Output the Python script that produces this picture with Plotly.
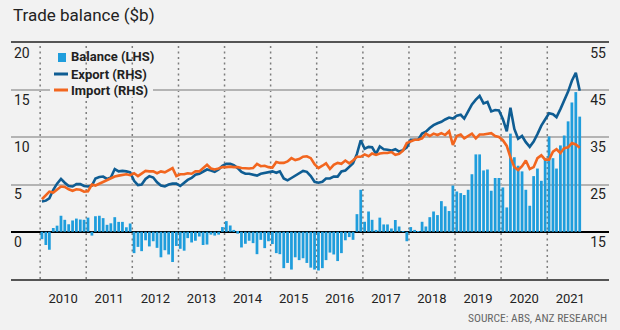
import plotly.graph_objects as go
import pandas as pd

# ---------------- data (A$ billion, monthly, Jan 2010 - Sep 2021) ----------------
balance = [
    -0.78, -1.4, -1.9, 0.4, 0.65, 1.7, 1.27, 0.8, 1.2, 1.4, 1.3, 1.27,        # 2010
    1.5, -0.4, 1.65, 1.7, 1.45, 0.74, 0.9, 1.55, 1.05, 1.05, 0.48, 0.88,      # 2011
    -2.26, -1.6, -2.05, -0.9, -1.55, -1.0, -1.7, -2.7, -1.95, -2.4, -3.2, -1.5,  # 2012
    -1.8, -2.0, -0.67, -1.13, -0.95, -0.5, -1.4, -1.35, -0.3, -0.4, -0.3, 0.5,   # 2013
    1.13, 0.67, 0.2, -0.2, -1.66, -1.27, -0.95, -1.2, -2.37, -0.85, -1.73, -1.0,  # 2014
    -1.3, -2.26, -2.37, -3.85, -3.3, -4.0, -2.7, -3.0, -2.8, -3.3, -3.8, -4.0,    # 2015
    -4.1, -3.85, -3.0, -2.2, -2.4, -3.1, -2.26, -0.9, -0.56, -0.85, 1.87, 4.45,   # 2016
    1.06, 2.15, 1.27, 0.2, 1.5, 0.78, 0.78, 0.35, 1.25, 0.56, 0.07, -1.0,        # 2017
    0.5, 0.2, 0.05, 1.06, 0.56, 1.55, 2.15, 1.77, 3.25, 2.7, 2.2, 4.9,           # 2018
    4.27, 4.1, 3.9, 4.45, 6.1, 8.2, 8.2, 6.5, 6.6, 4.35, 5.7, 5.7,               # 2019
    4.7, 2.58, 10.4, 7.9, 7.0, 6.4, 4.45, 2.76, 5.9, 6.7, 5.4, 7.8,              # 2020
    10.1, 7.8, 6.7, 9.15, 10.2, 11.7, 13.7, 14.8, 12.2,                          # 2021
]
exports = [
    21.4, 21.6, 22.1, 23.9, 25.2, 26.2, 25.4, 24.7, 24.6, 25.1, 25.1, 24.7,
    24.6, 24.8, 26.3, 26.6, 26.7, 26.2, 26.5, 28.3, 27.8, 27.9, 27.8, 27.6,
    25.8, 24.9, 25.0, 26.2, 26.8, 26.5, 25.5, 24.8, 24.6, 25.0, 25.2, 25.2,
    24.7, 25.3, 26.0, 26.4, 27.1, 27.3, 27.8, 28.2, 28.0, 27.7, 28.2, 29.0,
    29.4, 29.4, 29.1, 28.5, 27.7, 27.3, 27.3, 27.1, 26.9, 27.3, 27.5, 27.7,
    27.8, 27.5, 27.8, 26.3, 25.9, 26.4, 26.9, 27.5, 27.9, 27.7, 26.8, 25.6,
    25.4, 25.6, 26.3, 26.3, 26.7, 26.7, 27.8, 28.0, 28.7, 29.5, 31.5, 34.4,
    32.6, 33.0, 32.9, 31.5, 33.1, 32.5, 32.4, 32.2, 32.5, 32.0, 32.3, 32.9,
    34.5, 34.5, 34.5, 35.8, 36.2, 37.0, 37.6, 38.0, 38.3, 38.8, 39.2, 39.0,
    39.6, 39.8, 39.0, 40.5, 42.0, 43.0, 43.8, 42.2, 42.5, 40.5, 40.8, 40.7,
    38.9, 36.3, 41.3, 36.8, 34.7, 35.3, 34.0, 33.0, 34.1, 35.7, 37.5, 38.8,
    40.1, 39.9, 39.3, 41.0, 42.8, 44.7, 47.0, 48.7, 44.9,
]
imports = [
    21.9, 22.8, 23.5, 23.3, 24.0, 24.6, 24.5, 24.0, 23.7, 24.0, 23.9, 23.5,
    23.6, 25.0, 24.8, 25.2, 25.6, 26.0, 26.4, 26.7, 26.9, 27.1, 27.2, 27.0,
    27.4, 26.8, 27.3, 27.9, 27.8, 27.8, 27.4, 27.8, 27.6, 28.0, 28.5, 26.8,
    27.2, 27.2, 27.4, 27.3, 27.8, 27.8, 28.5, 29.2, 28.4, 28.2, 28.4, 28.7,
    28.7, 28.8, 28.7, 28.7, 28.5, 28.4, 28.4, 28.5, 29.4, 28.9, 29.0, 28.7,
    28.6, 29.8, 29.6, 29.6, 29.9, 30.6, 30.2, 30.4, 30.9, 31.0, 30.6, 29.3,
    28.5, 29.0, 29.5, 28.3, 29.2, 29.6, 29.4, 30.1, 29.5, 30.1, 30.9, 30.9,
    31.4, 31.0, 31.6, 31.3, 31.6, 31.7, 31.7, 31.9, 31.3, 31.5, 32.2, 33.8,
    34.1, 34.5, 34.5, 34.8, 35.8, 35.3, 35.8, 35.5, 35.9, 35.5, 36.3, 33.4,
    35.3, 35.6, 34.8, 35.3, 35.8, 34.8, 35.6, 35.6, 35.8, 35.9, 35.3, 35.1,
    34.4, 33.2, 30.8, 28.7, 28.1, 28.9, 30.1, 28.3, 28.7, 30.6, 31.2, 30.3,
    30.3, 32.0, 32.5, 31.7, 32.7, 32.9, 33.8, 33.5, 32.8,
]
months = pd.date_range("2010-01-01", periods=len(balance), freq="MS") + pd.Timedelta(days=14)

years = list(range(2010, 2022))
year_labels = [str(y) for y in years]
left_ticks = [0, 5, 10, 15, 20]
right_ticks = [15, 25, 35, 45, 55]

BAR = "#1f9ddc"
EXP = "#0f5d93"
IMP = "#f2661f"
BG = "#f2f2f2"
FONT = "Roboto"

W, H = 620, 330
L, R, T, B = 11, 11, 43, 51
PW, PH = W - L - R, H - T - B


def px(x):
    return (x - L) / PW


def py(y):
    return (H - B - y) / PH


fig = go.Figure()
fig.add_trace(go.Bar(x=months, y=balance, name="Balance (LHS)", marker_color=BAR,
                     marker_line_width=0, yaxis="y"))
fig.add_trace(go.Scatter(x=months, y=exports, name="Export (RHS)", mode="lines",
                         line=dict(color=EXP, width=2.6), yaxis="y2"))
fig.add_trace(go.Scatter(x=months, y=imports, name="Import (RHS)", mode="lines",
                         line=dict(color=IMP, width=2.6), yaxis="y2"))

# dotted year-boundary gridlines (placed through the x axis scale)
shapes = [
    dict(type="line", xref="x", yref="paper", x0=f"{y}-01-01", x1=f"{y}-01-01", y0=0, y1=1,
         line=dict(color="#7d7d7d", width=1.5, dash="2px,3.5px"), layer="below")
    for y in years
]
shapes += [
    dict(type="rect", xref="paper", yref="paper", x0=px(50), x1=px(153), y0=py(97), y1=py(83),
         fillcolor=BG, line_width=0, layer="above"),
    dict(type="rect", xref="paper", yref="paper", x0=px(58), x1=px(66), y0=py(62), y1=py(53),
         fillcolor=BAR, line_width=0, layer="above"),
    dict(type="line", xref="paper", yref="paper", x0=px(54), x1=px(68), y0=py(74), y1=py(74),
         line=dict(color=EXP, width=3), layer="above"),
    dict(type="line", xref="paper", yref="paper", x0=px(54), x1=px(68), y0=py(90), y1=py(90),
         line=dict(color=IMP, width=3), layer="above"),
]

annotations = [
    dict(text="Trade balance ($b)", xref="paper", yref="paper", x=px(11), y=py(15),
         xanchor="left", yanchor="middle", showarrow=False,
         font=dict(family=FONT, size=17, color="#222")),
    dict(text="SOURCE: ABS, ANZ RESEARCH", xref="paper", yref="paper", x=px(609), y=py(318),
         xanchor="right", yanchor="middle", showarrow=False,
         font=dict(family="Liberation Sans Narrow, Roboto Condensed, Roboto", size=11.5, color="#666")),
]
for name, yy in [("Balance (LHS)", 57), ("Export (RHS)", 74), ("Import (RHS)", 90)]:
    annotations.append(dict(text="<b>" + name + "</b>", xref="paper", yref="paper",
                            x=px(69), y=py(yy), xanchor="left", yanchor="middle",
                            showarrow=False, font=dict(family=FONT, size=13, color="#222")))

fig.update_layout(
    width=W, height=H,
    margin=dict(l=L, r=R, t=T, b=B, autoexpand=False),
    paper_bgcolor=BG, plot_bgcolor="rgba(0,0,0,0)",
    showlegend=False,
    bargap=0.22,
    shapes=shapes,
    annotations=annotations,
    xaxis=dict(
        type="date", range=["2009-05-15", "2022-05-05"],
        tickmode="array",
        tickvals=[f"{y}-07-02" for y in years], ticktext=year_labels,
        showgrid=False, ticks="", ticklabelstandoff=6,
        showline=True, linecolor="#555", linewidth=2, mirror=True,
        tickfont=dict(family=FONT, size=13, color="#222"),
        fixedrange=True,
    ),
    yaxis=dict(
        range=[-5, 20], tickmode="array", tickvals=left_ticks,
        ticktext=[str(v) for v in left_ticks],
        showgrid=True, gridcolor="#b4b4b4", gridwidth=1.5,
        zeroline=True, zerolinecolor="#000", zerolinewidth=1.5,
        ticklabelposition="inside bottom", ticks="",
        tickfont=dict(family=FONT, size=14, color="#222"),
        showline=False, layer="above traces",
    ),
    yaxis2=dict(
        range=[5, 55], overlaying="y", side="right", tickmode="array",
        tickvals=right_ticks, ticktext=[str(v) for v in right_ticks],
        showgrid=False, zeroline=False, ticks="",
        ticklabelposition="inside bottom",
        tickfont=dict(family=FONT, size=14, color="#222"),
        showline=False,
    ),
)

fig.write_html("out.html")
